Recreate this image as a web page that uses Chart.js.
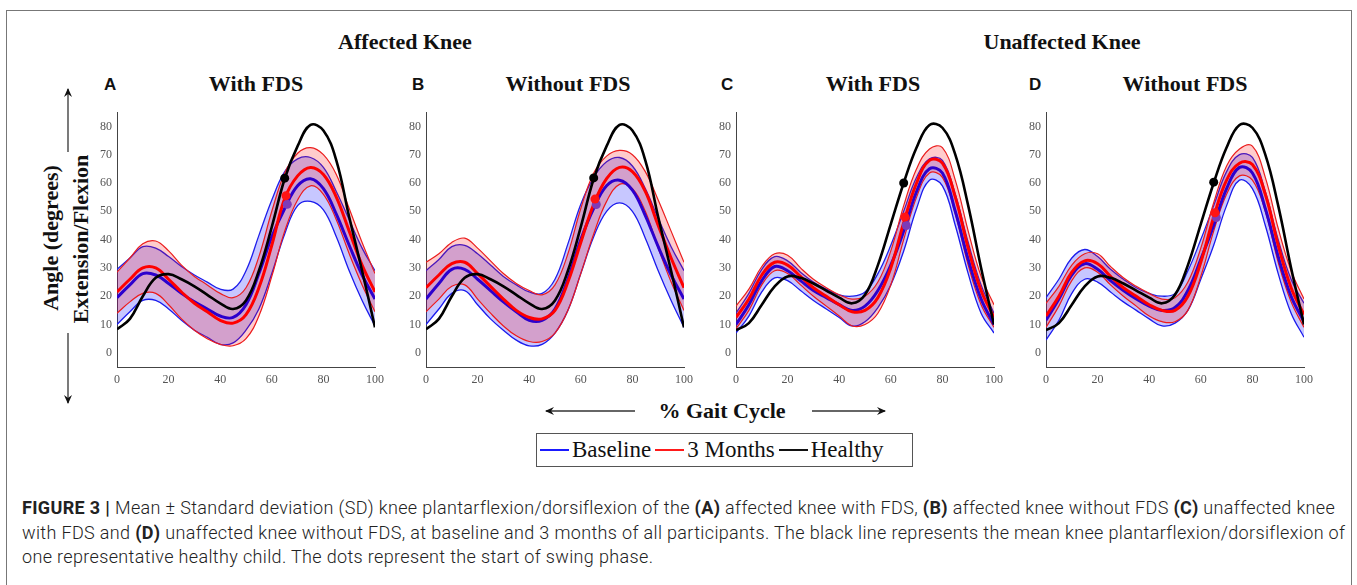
<!DOCTYPE html>
<html lang="en">
<head>
  <meta charset="UTF-8">
  <title>Knee angle over the gait cycle</title>
  <script src="https://cdn.jsdelivr.net/npm/chart.js"></script>
  <style>
    body {
      margin: 0;
      width: 1357px;
      height: 585px;
      overflow: hidden;
      background: #fff;
      position: relative;
      font-family: "Liberation Serif", serif;
    }
    .frame {
      position: absolute;
      left: 6px;
      top: 10px;
      width: 1344px;
      height: 600px;
      border: 1.5px solid #777;
    }
    .title {
      position: absolute;
      font-weight: bold;
      font-size: 22px;
      color: #111;
      white-space: nowrap;
      transform: translate(-50%, -50%);
    }
    .letter {
      position: absolute;
      font-family: "Liberation Sans", Arial, sans-serif;
      font-weight: bold;
      font-size: 17px;
      color: #111;
    }
    .panel {
      position: absolute;
      top: 100px;
    }
    .ylab {
      position: absolute;
      font-weight: bold;
      font-size: 22px;
      color: #111;
      white-space: nowrap;
      transform: translate(-50%, -50%) rotate(-90deg);
    }
    .legend {
      position: absolute;
      left: 536px;
      top: 433px;
      width: 377px;
      height: 34px;
      border: 1px solid #555;
      display: flex;
      align-items: center;
      font-size: 23px;
      color: #111;
      box-sizing: border-box;
      padding-left: 3px;
    }
    .legend .seg {
      display: inline-block;
      width: 29px;
      height: 2px;
      margin-right: 3px;
    }
    .legend .item { margin-right: 4px; }
    .caption {
      position: absolute;
      left: 22px;
      top: 496px;
      font-family: Roboto, "Liberation Sans", sans-serif;
      font-weight: 300;
      font-size: 18px;
      letter-spacing: 0.35px;
      line-height: 24.5px;
      color: #222;
      white-space: nowrap;
    }
    .caption b { font-weight: bold; }
    svg.arrows { position: absolute; left: 0; top: 0; }
  </style>
</head>
<body>
  <div class="frame"></div>

  <div class="title" style="left:405px; top:42px;">Affected Knee</div>
  <div class="title" style="left:1062px; top:42px;">Unaffected Knee</div>

  <div class="letter" style="left:104px; top:75px;">A</div>
  <div class="letter" style="left:412px; top:75px;">B</div>
  <div class="letter" style="left:721px; top:75px;">C</div>
  <div class="letter" style="left:1029px; top:75px;">D</div>

  <div class="title" style="left:256px; top:84px;">With FDS</div>
  <div class="title" style="left:568px; top:84px;">Without FDS</div>
  <div class="title" style="left:873px; top:84px;">With FDS</div>
  <div class="title" style="left:1185px; top:84px;">Without FDS</div>

  <div class="ylab" style="left:51px; top:238px;">Angle (degrees)</div>
  <div class="ylab" style="left:81px; top:239px;">Extension/Flexion</div>

  <div class="title" style="left:722px; top:411px;">% Gait Cycle</div>

  <svg class="arrows" width="1357" height="585">
    <defs>
      <marker id="head" markerWidth="10" markerHeight="10" refX="8" refY="5" orient="auto" markerUnits="userSpaceOnUse">
        <path d="M0,1 L9,5 L0,9 L3,5 Z" fill="#111"/>
      </marker>
    </defs>
    <g stroke="#333" stroke-width="1.3" fill="none">
      <line x1="68" y1="152" x2="68" y2="89" marker-end="url(#head)"/>
      <line x1="68" y1="333" x2="68" y2="403" marker-end="url(#head)"/>
      <line x1="635" y1="411" x2="546" y2="411" marker-end="url(#head)"/>
      <line x1="812" y1="411" x2="885" y2="411" marker-end="url(#head)"/>
    </g>
  </svg>

  <canvas id="panelA" class="panel" width="313" height="290" style="left:77px;"></canvas>
  <canvas id="panelB" class="panel" width="313" height="290" style="left:386px;"></canvas>
  <canvas id="panelC" class="panel" width="313" height="290" style="left:696px;"></canvas>
  <canvas id="panelD" class="panel" width="313" height="290" style="left:1006px;"></canvas>

  <div class="legend">
    <span class="seg" style="background:#1a1aff;"></span><span class="item">Baseline</span>
    <span class="seg" style="background:#ff1a1a;"></span><span class="item">3 Months</span>
    <span class="seg" style="background:#111;"></span><span class="item">Healthy</span>
  </div>

  <div class="caption">
    <b>FIGURE 3 |</b> Mean ± Standard deviation (SD) knee plantarflexion/dorsiflexion of the <b>(A)</b> affected knee with FDS, <b>(B)</b> affected knee without FDS <b>(C)</b> unaffected knee<br>
    with FDS and <b>(D)</b> unaffected knee without FDS, at baseline and 3 months of all participants. The black line represents the mean knee plantarflexion/dorsiflexion of<br>
    one representative healthy child. The dots represent the start of swing phase.
  </div>

  <script>
    // % gait cycle sample points
    const gaitPct = [0, 5, 10, 15, 20, 25, 30, 35, 40, 45, 50, 55, 60, 65, 70, 75, 80, 85, 90, 95, 100];
    const yTickValues = [0, 10, 20, 30, 40, 50, 60, 70, 80];
    const xTickValues = [0, 20, 40, 60, 80, 100];

    // healthy child (black)
    const healthyAffected   = [8.3, 12, 20, 26.5, 27.8, 26, 23.5, 20.5, 17.5, 15.5, 18.5, 29, 44.5, 61.5, 73, 80.5, 78.5, 68, 48, 29, 9];
    const healthyUnaffected = [8, 10.5, 17, 23.5, 27, 26.5, 24.5, 22, 19.5, 17.5, 20.5, 31, 45.5, 60, 72.5, 80.5, 79.5, 70, 52, 30, 10];

    // A: affected knee with FDS
    const baseA    = [19.5, 24, 28, 27.5, 24.5, 21, 18, 15.5, 13, 12.5, 17, 28, 41, 51, 59, 61.5, 58, 49, 38, 27.5, 19];
    const baseAHi  = [29.5, 33.5, 37.5, 37, 34, 30.5, 27.5, 25, 22.5, 22.5, 29, 41.5, 54, 64, 68.5, 69, 65.5, 57, 47, 37, 29];
    const baseALo  = [10, 14.5, 18.5, 18.5, 15.5, 11.5, 8, 5.5, 3, 3.5, 8, 15.5, 28, 42, 52, 53.5, 50.5, 41, 29, 18.5, 9.5];
    const monthA   = [21.5, 26, 30, 30, 26, 21.5, 17.5, 14.5, 11.5, 10.5, 13.5, 23, 38, 54.5, 62.5, 65.5, 63, 55, 43, 31, 21.5];
    const monthAHi = [28.5, 33.5, 38.5, 39.5, 36, 31, 27, 24, 21, 19.5, 23, 34, 50, 63.5, 70.5, 72.5, 70, 63, 51, 39, 28];
    const monthALo = [14, 18, 21, 21, 17, 12, 8, 5, 3, 2.5, 5, 13, 27, 43, 54, 59, 56, 47, 35, 24, 14.5];

    // B: affected knee without FDS
    const baseB    = [19, 24.5, 29.5, 29.5, 26, 22, 18, 14.5, 11.5, 11.5, 15.5, 26, 40, 51, 59, 61, 57.5, 48.5, 37.5, 27.5, 19];
    const baseBHi  = [29, 33, 37.5, 38, 35, 31, 27, 24, 21.5, 21, 26, 38.5, 52.5, 62, 67.5, 69, 66, 58, 47.5, 37.5, 29];
    const baseBLo  = [10, 15.5, 21, 22, 17, 12, 8, 4.5, 2.5, 3, 7, 15, 28, 41, 50, 53, 50, 40.5, 29, 18.5, 9];
    const monthB   = [23, 27.5, 31.5, 32, 28, 23.5, 19, 15, 12.5, 12, 15, 25, 39, 52.5, 61.5, 65.5, 64, 57, 45, 33.5, 23];
    const monthBHi = [32, 35, 39, 40.5, 37, 32.5, 28, 24.5, 22, 20.5, 24, 35, 51, 63.5, 69.5, 71.5, 70, 64, 54, 43, 32];
    const monthBLo = [14.5, 19, 23.5, 24, 19, 14, 9.5, 6, 4, 4, 7, 15, 28, 42, 53.5, 59.5, 58, 50, 37, 25, 15];

    // C: unaffected knee with FDS
    const baseC    = [10, 17, 25.5, 30.5, 29, 25.5, 22, 19.5, 17, 15, 16.5, 22, 31, 43, 57, 65, 63.5, 50, 33, 19, 10];
    const baseCHi  = [14, 21, 29.5, 34, 32.5, 28.5, 25, 22.5, 20.5, 20, 21.5, 28, 38, 50, 62, 68.5, 68, 56, 39, 24, 14];
    const baseCLo  = [7, 13, 21.5, 26.5, 25.5, 22, 18.5, 15.5, 12.5, 9.5, 11, 16, 24, 36, 51, 61, 59, 45, 28, 14, 7];
    const monthC   = [12.5, 19, 27.5, 32, 31, 27, 23, 20, 17, 14.5, 15, 19.5, 30, 46, 60, 68, 67, 55, 37, 22, 12.5];
    const monthCHi = [16.5, 22.5, 30.5, 35, 34.5, 30, 26, 23, 20.5, 19, 20, 25, 36, 52, 65, 72, 72.5, 61, 43, 27, 17];
    const monthCLo = [8.5, 15, 24, 29, 28, 24, 20, 16.5, 13, 9.5, 10, 14, 24, 40, 55, 63.5, 62, 49, 31, 17, 9];

    // D: unaffected knee without FDS
    const baseD    = [11.5, 19, 27.5, 31.5, 29.5, 25.5, 22, 19, 16.5, 15, 16, 22, 33, 45, 58, 65.5, 63.5, 51, 34, 20, 11];
    const baseDHi  = [19.5, 26, 33.5, 36.5, 34, 29.5, 26, 23, 21, 20, 21, 29, 40, 52, 64, 70, 69, 57, 40, 26, 17.5];
    const baseDLo  = [4.5, 11.5, 21, 26, 25, 21.5, 18, 15, 12, 9.5, 10.5, 15, 26, 38, 52, 61, 58, 45, 28, 14, 5.5];
    const monthD   = [13, 20, 28.5, 32.5, 31.5, 27, 23, 20, 17, 15, 15, 20, 32, 48, 61, 67, 66.5, 56, 38, 23, 13.5];
    const monthDHi = [17.5, 23.5, 31, 35, 35, 30.5, 26.5, 23.5, 21, 19, 19.5, 25, 37, 53, 66, 72, 73, 62, 44, 29, 19];
    const monthDLo = [9, 16.5, 25.5, 30, 28.5, 24, 20, 16.5, 13, 11, 11, 15, 27, 43, 56, 62.5, 61, 50, 32, 18, 9];

    // start of swing phase: [healthy, 3 months, baseline]
    const swingX = [65, 65.5, 66];
    const swingA = [61.7, 55.5, 52.5];
    const swingB = [61.8, 54.3, 52.4];
    const swingC = [60, 48, 45];
    const swingD = [60.3, 49.5, 47.8];

    const BLUE = 'rgb(30,30,235)';
    const BLUE_MEAN = 'rgb(45,0,205)';
    const RED = 'rgb(235,30,30)';
    const tickFont = { family: "'Liberation Serif', 'Times New Roman', serif", size: 12 };

    function pts(vals) {
      return vals.map((v, i) => ({ x: gaitPct[i], y: v }));
    }

    function line(vals, color, width, order, extra) {
      return Object.assign({
        data: pts(vals),
        borderColor: color,
        borderWidth: width,
        pointRadius: 0,
        tension: 0.4,
        fill: false,
        order: order
      }, extra || {});
    }

    function dot(x, y, color) {
      return {
        data: [{ x: x, y: y }],
        showLine: false,
        pointRadius: 4.5,
        pointBackgroundColor: color,
        pointBorderColor: color,
        pointBorderWidth: 0,
        order: 0
      };
    }

    function makePanel(id, base, baseHi, baseLo, month, monthHi, monthLo, healthy, swing) {
      new Chart(document.getElementById(id), {
        type: 'line',
        data: {
          datasets: [
            line(baseLo, BLUE, 1.3, 7),
            line(baseHi, BLUE, 1.3, 6, { fill: '-1', backgroundColor: 'rgba(0,0,255,0.22)' }),
            line(monthLo, RED, 1.2, 5),
            line(monthHi, RED, 1.2, 4, { fill: '-1', backgroundColor: 'rgba(255,0,0,0.2)' }),
            line(base, BLUE_MEAN, 3, 3),
            line(month, 'rgb(255,0,0)', 3, 2),
            line(healthy, '#000', 2.6, 1),
            dot(swingX[0], swing[0], '#000'),
            dot(swingX[1], swing[1], 'rgb(255,20,20)'),
            dot(swingX[2], swing[2], 'rgb(125,60,185)')
          ]
        },
        options: {
          responsive: false,
          animation: false,
          layout: { padding: { top: 8, right: 12, left: 0, bottom: 0 } },
          plugins: { legend: { display: false }, tooltip: { enabled: false } },
          scales: {
            x: {
              type: 'linear',
              min: 0,
              max: 100,
              grid: { display: false, drawTicks: false },
              border: { display: true, color: '#444', width: 1 },
              ticks: { font: tickFont, color: '#555', padding: 6, maxRotation: 0 },
              afterBuildTicks: (s) => { s.ticks = xTickValues.map(v => ({ value: v })); },
              afterFit: (s) => { s.height = 23; }
            },
            y: {
              min: -5,
              max: 85,
              grid: { display: false, drawTicks: false },
              border: { display: true, color: '#444', width: 1 },
              ticks: { font: tickFont, color: '#555', padding: 5 },
              afterBuildTicks: (s) => { s.ticks = yTickValues.map(v => ({ value: v })); },
              afterFit: (s) => { s.width = 40; }
            }
          }
        }
      });
    }

    makePanel('panelA', baseA, baseAHi, baseALo, monthA, monthAHi, monthALo, healthyAffected, swingA);
    makePanel('panelB', baseB, baseBHi, baseBLo, monthB, monthBHi, monthBLo, healthyAffected, swingB);
    makePanel('panelC', baseC, baseCHi, baseCLo, monthC, monthCHi, monthCLo, healthyUnaffected, swingC);
    makePanel('panelD', baseD, baseDHi, baseDLo, monthD, monthDHi, monthDLo, healthyUnaffected, swingD);
  </script>
</body>
</html>
